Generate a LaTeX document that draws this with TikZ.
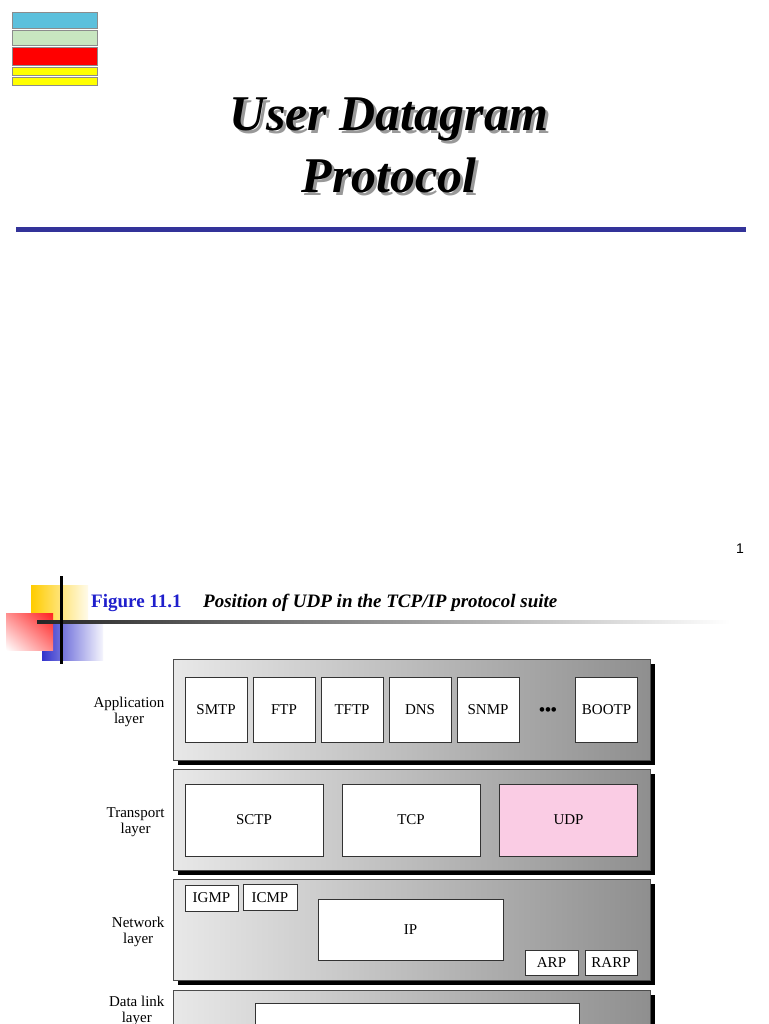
\documentclass[tikz,border=0pt]{standalone}
\usepackage{fontspec}
\setmainfont{Liberation Serif}
\newfontfamily\numfont{Liberation Sans}
\usetikzlibrary{positioning,calc,shadings}
\definecolor{barblue}{HTML}{5CC0DC}
\definecolor{bargreen}{HTML}{C8E6C0}
\definecolor{baryellow}{HTML}{FFFF00}
\definecolor{rulblue}{HTML}{333399}
\definecolor{figblue}{HTML}{1F1FCC}
\definecolor{udppink}{HTML}{FACCE4}
\definecolor{decoyellow}{HTML}{FFCC00}
\definecolor{decored}{HTML}{FF2020}
\definecolor{decoblue}{HTML}{3333CC}

\begin{document}
\begin{tikzpicture}[x=1pt,y=-1pt,
      bar/.style={draw=black!45,line width=0.6pt},
      layer/.style={draw=black!70,line width=0.8pt,left color=black!9,right color=black!44,
        anchor=north west,minimum width=477pt,minimum height=101pt,inner sep=0pt},
      layshadow/.style={fill=black,anchor=north west,minimum width=477pt,minimum height=101pt,inner sep=0pt},
      proto/.style={draw=black!80,line width=0.9pt,fill=white,inner sep=0pt,font=\fontsize{15}{16}\selectfont},
      laylbl/.style={align=center,anchor=east,font=\fontsize{15}{16}\selectfont},
      ttl/.style={anchor=base,font=\fontsize{50}{58}\selectfont\bfseries\itshape}]
    \clip (0,0) rectangle (768,1024);
    \fill[white] (0,0) rectangle (768,1024);
    \foreach \y/\h/\c in {12/16/barblue,30/15/bargreen,47/18/red,67/8/baryellow,77/8/baryellow} {
      \draw[bar,fill=\c] (12,\y) rectangle ++(85,\h);
    }
    \node[ttl,text=black!40] (ttlAs) at (392,134) {User Datagram};
    \node[ttl] (ttlA) at (389,131) {User Datagram};
    \node[ttl,text=black!40] (ttlBs) at (392,196) {Protocol};
    \node[ttl] (ttlB) at (389,193) {Protocol};
    \coordinate (rulL) at (16,230);
    \coordinate (rulR) at (746,230);
    \draw[rulblue,line width=5pt] (rulL) -- (rulR);
    \node[font=\numfont\fontsize{14}{14}\selectfont] (pgnum) at (740,549) {1};
    \shade[left color=decoyellow,middle color=decoyellow!85,right color=decoyellow!8] (31,585) rectangle (88,628);
    \shade[left color=decoblue,middle color=decoblue!75,right color=decoblue!5] (42,623) rectangle (103,660);
    \shade[upper right=decored,upper left=decored!50,lower right=decored!55,lower left=white] (6,613) rectangle (53,650);
    \shade[left color=black!85,middle color=black!70,right color=white] (37,620.5) rectangle (730,623.5);
    \draw[line width=3pt] (61,576) -- (61,664);
    \node[anchor=base west,inner sep=0pt,text=figblue,font=\fontsize{19}{19}\selectfont\bfseries] (fignum) at (91,607) {Figure 11.1};
    \node[anchor=base west,inner sep=0pt,font=\fontsize{19}{19}\selectfont\bfseries\itshape] (figcap) at (203,607) {Position of UDP in the TCP/IP protocol suite};
    \foreach \y/\nm in {659/app,769/tra,879/net,990/dl} {
      \node[layshadow] (\nm s) at (178,\y+5) {};
      \node[layer] (\nm) at (173,\y) {};
    }
    \node[laylbl] (appl) at (168,712) {Application\\layer};
    \node[laylbl] (tral) at (168,822) {Transport\\layer};
    \node[laylbl] (netl) at (168,932) {Network\\layer};
    \node[laylbl] (dll) at (168,1011) {Data link\\layer};
    \foreach \i/\t in {0/SMTP,1/FTP,2/TFTP,3/DNS,4/SNMP} {
      \node[proto,minimum width=62pt,minimum height=65pt] (ap\i) at (216+68*\i,709.5) {\t};
    }
    \node[font=\fontsize{17}{17}\selectfont\bfseries] (dots) at (548,712) {\textbullet\textbullet\textbullet};
    \node[proto,minimum width=62pt,minimum height=65pt] (bootp) at (606.5,709.5) {BOOTP};
    \node[proto,minimum width=138pt,minimum height=72pt] (sctp) at (254,820) {SCTP};
    \node[proto,minimum width=138pt,minimum height=72pt] (tcp) at (411,820) {TCP};
    \node[proto,minimum width=138pt,minimum height=72pt,fill=udppink] (udp) at (568.5,820) {UDP};
    \node[proto,minimum width=53pt,minimum height=26pt] (igmp) at (211.5,898) {IGMP};
    \node[proto,minimum width=54pt,minimum height=26pt] (icmp) at (270,897.5) {ICMP};
    \node[proto,minimum width=185pt,minimum height=61pt] (ip) at (410.5,929.5) {IP};
    \node[proto,minimum width=53pt,minimum height=25pt] (arp) at (551.5,962.5) {ARP};
    \node[proto,minimum width=52pt,minimum height=25pt] (rarp) at (611,962.5) {RARP};
    \node[proto,anchor=north,minimum width=324pt,minimum height=60pt] (dlbox) at (417,1003) {};
  \end{tikzpicture}
\end{document}
